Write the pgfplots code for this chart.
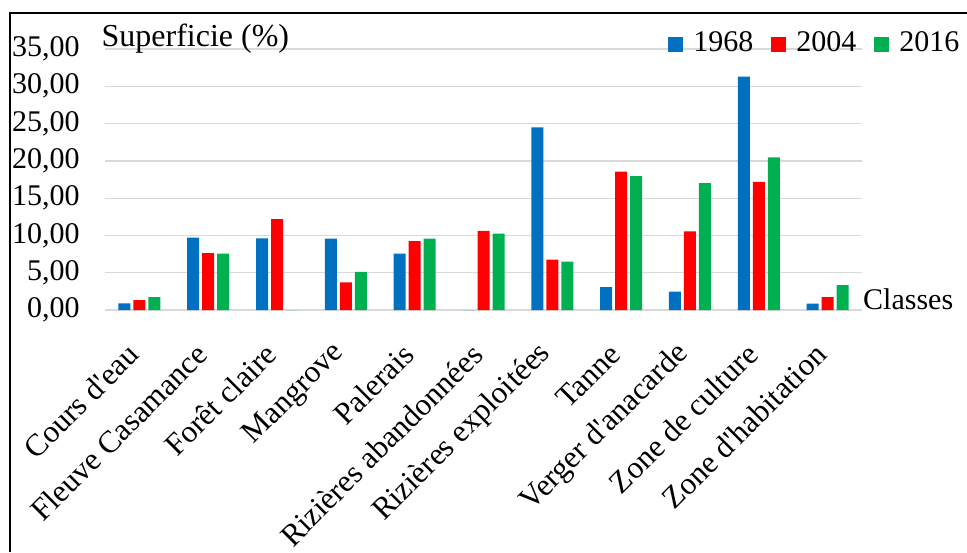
\documentclass[border=0pt]{standalone}
\usepackage{pgfplots}
\pgfplotsset{compat=1.18}
\usepackage{fontspec}
\setmainfont{Liberation Serif}
\definecolor{cblue}{HTML}{0070C0}
\definecolor{cred}{HTML}{FF0000}
\definecolor{cgreen}{HTML}{00B050}
\definecolor{gridgray}{HTML}{D9D9D9}
\newcommand{\ff}{\fontsize{15}{18}\selectfont}
\newcommand{\fx}{\fontsize{15.6}{18}\selectfont}
\newcommand{\q}{\textquotesingle}
\begin{document}
\ff
\begin{tikzpicture}
\useasboundingbox (0,0) rectangle (483.5pt,-276pt);
\draw[line width=0.8pt] (5pt,-276pt) -- (5pt,-6.5pt) -- (483.5pt,-6.5pt);
\begin{axis}[
  at={(52.5pt,-155pt)}, anchor=south west,
  scale only axis, width=378.5pt, height=130.5pt,
  ybar, bar width=6pt,
  xmin=-0.5, xmax=10.5, ymin=0, ymax=35,
  xtick={0,...,10},
  xticklabels={Cours d\q eau,Fleuve Casamance,Forêt claire,Mangrove,Palerais,Rizières abandonnées,Rizières exploitées,Tanne,Verger d\q anacarde,Zone de culture,Zone d\q habitation},
  ytick={0,5,...,35},
  ymajorgrids, grid style={gridgray, line width=0.65pt},
  axis line style={draw=none},
  major tick length=0pt,
  clip=false,
  /pgf/number format/fixed, /pgf/number format/fixed zerofill,
  /pgf/number format/precision=2, /pgf/number format/use comma,
  /pgf/number format/assume math mode=true,
  ticklabel style={font=\ff, inner sep=0pt},
  yticklabel shift=12.5pt,
  yticklabel style={anchor=east},
  xticklabel style={font=\fx, xshift=-3pt, rotate=45, anchor=east},
  xticklabel shift=19.5pt,
  legend columns=3,
  legend image code/.code={\fill[#1] (0pt,-4.25pt) rectangle (7.5pt,3.25pt);},
  legend style={at={(0.7437,0.973)}, anchor=south west, draw=none, fill=none,
    inner sep=0pt, font=\ff, nodes={inner sep=0pt},
    /tikz/every odd column/.append style={column sep=5pt},
    /tikz/every even column/.append style={column sep=9pt}},
]
\addplot[fill=cblue, draw=none, bar shift=-7.5pt] coordinates {
 (0,0.90) (1,9.70) (2,9.60) (3,9.57) (4,7.55) (5,0) (6,24.50) (7,3.08) (8,2.46) (9,31.29) (10,0.85)};
\addplot[fill=cred, draw=none, bar shift=0pt] coordinates {
 (0,1.34) (1,7.64) (2,12.20) (3,3.70) (4,9.25) (5,10.60) (6,6.75) (7,18.55) (8,10.55) (9,17.17) (10,1.74)};
\addplot[fill=cgreen, draw=none, bar shift=7.5pt] coordinates {
 (0,1.74) (1,7.55) (2,0) (3,5.10) (4,9.57) (5,10.23) (6,6.48) (7,17.97) (8,17.03) (9,20.48) (10,3.35)};
\legend{1968,2004,2016}
\node[anchor=base west, inner sep=0pt, font=\fontsize{16}{18}\selectfont] at (rel axis cs:-0.005,1.009) {Superficie (\%)};
\node[anchor=base west, inner sep=0pt, font=\ff] at (rel axis cs:1.001,0.002) {Classes};
\end{axis}
\end{tikzpicture}
\end{document}
